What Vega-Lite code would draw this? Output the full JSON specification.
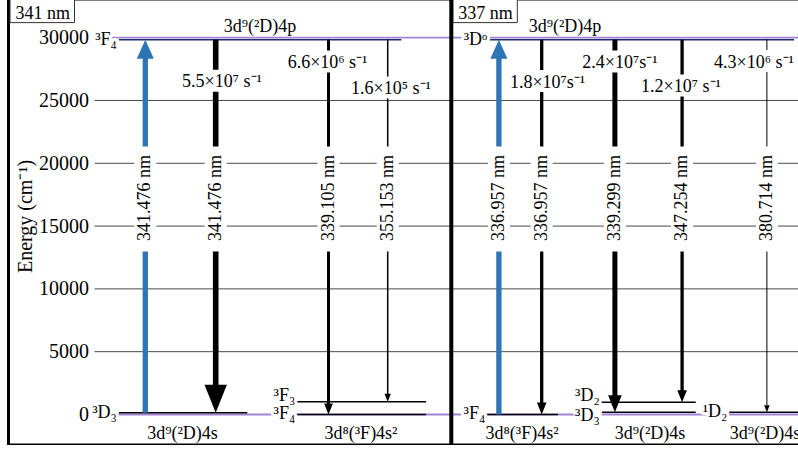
{
  "$schema": "https://vega.github.io/schema/vega-lite/v6.json",
  "width": 800,
  "height": 446,
  "autosize": {"type": "none"},
  "padding": {"left": 8.5, "top": -1, "right": 0, "bottom": 0},
  "config": {
    "font": "Liberation Serif",
    "view": {"stroke": "black", "strokeWidth": 3},
    "text": {"fontSize": 18, "color": "black"}
  },
  "datasets": {
    "ticks": [{"E": 0}, {"E": 5000}, {"E": 10000}, {"E": 15000}, {"E": 20000}, {"E": 25000}, {"E": 30000}],
    "levels": [
      {"panel": "341", "term": "³F₄", "kind": "upper", "E": 29840, "x1": 13.8, "x2": 49.1},
      {"panel": "341", "term": "³D₃", "kind": "lower", "E": 143, "x1": 13.8, "x2": 29.85},
      {"panel": "341", "term": "³F₄", "kind": "lower", "E": 0, "x1": 36.1, "x2": 52.2},
      {"panel": "341", "term": "³F₃", "kind": "lower", "E": 1020, "x1": 36.1, "x2": 52.2},
      {"panel": "337", "term": "³Dᵒ", "kind": "upper", "E": 29840, "x1": 60.1, "x2": 98.2},
      {"panel": "337", "term": "³F₄", "kind": "lower", "E": 0, "x1": 59.85, "x2": 68.7},
      {"panel": "337", "term": "³D₃", "kind": "lower", "E": 170, "x1": 74.15, "x2": 85.9},
      {"panel": "337", "term": "³D₂", "kind": "lower", "E": 970, "x1": 74.15, "x2": 85.9},
      {"panel": "337", "term": "¹D₂", "kind": "lower", "E": 170, "x1": 90.1, "x2": 100}
    ],
    "transitions": [
      {"panel": "341", "kind": "abs", "wl": "341.476 nm", "x": 17.1, "Eup": 29840, "Elow": 143},
      {"panel": "341", "kind": "em", "wl": "341.476 nm", "x": 25.9, "Eup": 29840, "Elow": 143, "rate": 55000000, "rlabel": "5.5×10⁷ s⁻¹", "lx": 26.69, "ly": 26450},
      {"panel": "341", "kind": "em", "wl": "339.105 nm", "x": 40.0, "Eup": 29840, "Elow": 0, "rate": 6600000, "rlabel": "6.6×10⁶ s⁻¹", "lx": 39.88, "ly": 27980},
      {"panel": "341", "kind": "em", "wl": "355.153 nm", "x": 47.4, "Eup": 29840, "Elow": 1020, "rate": 160000, "rlabel": "1.6×10⁵ s⁻¹", "lx": 47.81, "ly": 25910},
      {"panel": "337", "kind": "abs", "wl": "336.957 nm", "x": 61.3, "Eup": 29840, "Elow": 0},
      {"panel": "337", "kind": "em", "wl": "336.957 nm", "x": 66.65, "Eup": 29840, "Elow": 0, "rate": 18000000, "rlabel": "1.8×10⁷s⁻¹", "lx": 67.38, "ly": 26430},
      {"panel": "337", "kind": "em", "wl": "339.299 nm", "x": 75.8, "Eup": 29840, "Elow": 170, "rate": 24000000, "rlabel": "2.4×10⁷s⁻¹", "lx": 76.44, "ly": 27980},
      {"panel": "337", "kind": "em", "wl": "347.254 nm", "x": 84.2, "Eup": 29840, "Elow": 970, "rate": 12000000, "rlabel": "1.2×10⁷ s⁻¹", "lx": 84.06, "ly": 26080},
      {"panel": "337", "kind": "em", "wl": "380.714 nm", "x": 94.8, "Eup": 29840, "Elow": 170, "rate": 4300000, "rlabel": "4.3×10⁶ s⁻¹", "lx": 93.19, "ly": 28020}
    ],
    "configs": [
      {"config": "3d⁹(²D)4p", "x": 31.44, "E": 29840, "pos": "above"},
      {"config": "3d⁹(²D)4s", "x": 21.75, "E": 0, "pos": "below"},
      {"config": "3d⁸(³F)4s²", "x": 44.06, "E": 0, "pos": "below"},
      {"config": "3d⁹(²D)4p", "x": 69.56, "E": 29840, "pos": "above"},
      {"config": "3d⁸(³F)4s²", "x": 64.19, "E": 0, "pos": "below"},
      {"config": "3d⁹(²D)4s", "x": 80.19, "E": 0, "pos": "below"},
      {"config": "3d⁹(²D)4s", "x": 94.56, "E": 0, "pos": "below"}
    ],
    "panels": [{"name": "341 nm", "left": 0}, {"name": "337 nm", "left": 55.35}]
  },
  "layer": [
    {
      "data": {"name": "ticks"},
      "mark": {"type": "rule"},
      "encoding": {
        "x": {"datum": 10.75, "type": "quantitative", "scale": {"domain": [0, 100]}, "axis": null},
        "x2": {"datum": 100},
        "y": {"field": "E", "type": "quantitative", "scale": {"domain": [-2430, 33080], "nice": false, "zero": false},
          "axis": {"orient": "left", "offset": -86, "values": [0, 5000, 10000, 15000, 20000, 25000, 30000], "format": "d",
            "domain": false, "ticks": false, "grid": false, "zindex": 1, "labelFontSize": 20, "labelColor": "black", "labelPadding": 6,
            "labelFont": "Liberation Serif", "titleFont": "Liberation Serif",
            "title": "Energy (cm⁻¹)", "titleFontSize": 20, "titleFontWeight": "normal", "titleColor": "black",
            "titleAngle": 270, "titleX": -63, "titleY": 217, "titleBaseline": "alphabetic", "titleAlign": "center"}},
        "color": {"condition": {"test": "datum.E == 0 || datum.E == 30000", "value": "#a283d6"}, "value": "#4a4a4a"},
        "strokeWidth": {"condition": {"test": "datum.E == 0 || datum.E == 30000", "value": 1.8}, "value": 1}
      }
    },
    {
      "data": {"name": "levels"},
      "mark": {"type": "rule", "strokeWidth": 1.5},
      "encoding": {
        "x": {"field": "x1", "type": "quantitative", "scale": {"domain": [0, 100]}, "axis": null},
        "x2": {"field": "x2"},
        "y": {"field": "E", "type": "quantitative", "scale": {"domain": [-2430, 33080], "nice": false, "zero": false}},
        "color": {"condition": {"test": "datum.kind == 'upper'", "value": "#1c2e6b"}, "value": "black"}
      }
    },
    {
      "data": {"name": "transitions"},
      "transform": [{"filter": "datum.kind == 'em'"}],
      "mark": {"type": "rule", "color": "black", "y2Offset": -7},
      "encoding": {
        "x": {"field": "x", "type": "quantitative", "scale": {"domain": [0, 100]}, "axis": null},
        "y": {"field": "Eup", "type": "quantitative", "scale": {"domain": [-2430, 33080], "nice": false, "zero": false}},
        "y2": {"field": "Elow"},
        "strokeWidth": {"field": "rate", "type": "quantitative", "legend": null,
          "scale": {"type": "threshold", "domain": [1000000, 5000000, 10000000, 20000000, 40000000], "range": [1.5, 1, 3, 3.3, 5, 5.6]}}
      }
    },
    {
      "data": {"name": "transitions"},
      "transform": [{"filter": "datum.kind == 'em'"}],
      "mark": {"type": "point", "shape": "M-0.8,-2L0.8,-2L0,0Z", "filled": true, "color": "black", "opacity": 1, "strokeWidth": 0},
      "encoding": {
        "x": {"field": "x", "type": "quantitative", "scale": {"domain": [0, 100]}, "axis": null},
        "y": {"field": "Elow", "type": "quantitative", "scale": {"domain": [-2430, 33080], "nice": false, "zero": false}},
        "size": {"field": "rate", "type": "quantitative", "legend": null,
          "scale": {"type": "threshold", "domain": [1000000, 5000000, 10000000, 20000000, 40000000], "range": [64, 49, 121, 144, 289, 784]}}
      }
    },
    {
      "data": {"name": "transitions"},
      "transform": [{"filter": "datum.kind == 'abs'"}],
      "mark": {"type": "rule", "color": "#2e75b6", "strokeWidth": 5.3, "yOffset": 7},
      "encoding": {
        "x": {"field": "x", "type": "quantitative", "scale": {"domain": [0, 100]}, "axis": null},
        "y": {"field": "Eup", "type": "quantitative", "scale": {"domain": [-2430, 33080], "nice": false, "zero": false}},
        "y2": {"field": "Elow"}
      }
    },
    {
      "data": {"name": "transitions"},
      "transform": [{"filter": "datum.kind == 'abs'"}],
      "mark": {"type": "point", "shape": "M-0.9,2L0.9,2L0,0Z", "size": 361, "filled": true, "color": "#2e75b6", "opacity": 1, "strokeWidth": 0},
      "encoding": {
        "x": {"field": "x", "type": "quantitative", "scale": {"domain": [0, 100]}, "axis": null},
        "y": {"field": "Eup", "type": "quantitative", "scale": {"domain": [-2430, 33080], "nice": false, "zero": false}}
      }
    },
    {
      "data": {"name": "transitions"},
      "mark": {"type": "rect", "color": "white", "xOffset": -11, "x2Offset": 11},
      "encoding": {
        "x": {"field": "x", "type": "quantitative", "scale": {"domain": [0, 100]}, "axis": null},
        "x2": {"field": "x"},
        "y": {"datum": 12980, "type": "quantitative", "scale": {"domain": [-2430, 33080], "nice": false, "zero": false}},
        "y2": {"datum": 21340}
      }
    },
    {
      "data": {"name": "transitions"},
      "mark": {"type": "text", "angle": 270, "align": "center", "baseline": "middle", "fontSize": 18},
      "encoding": {
        "x": {"field": "x", "type": "quantitative", "scale": {"domain": [0, 100]}, "axis": null},
        "y": {"datum": 17240, "type": "quantitative", "scale": {"domain": [-2430, 33080], "nice": false, "zero": false}},
        "text": {"field": "wl"}
      }
    },
    {
      "data": {"name": "transitions"},
      "transform": [{"filter": "datum.kind == 'em'"}],
      "mark": {"type": "rect", "color": "white", "xOffset": -30, "x2Offset": 30, "yOffset": -12.5, "y2Offset": 9.5},
      "encoding": {
        "x": {"field": "lx", "type": "quantitative", "scale": {"domain": [0, 100]}, "axis": null},
        "x2": {"field": "lx"},
        "y": {"field": "ly", "type": "quantitative", "scale": {"domain": [-2430, 33080], "nice": false, "zero": false}},
        "y2": {"field": "ly"}
      }
    },
    {
      "data": {"name": "transitions"},
      "transform": [{"filter": "datum.kind == 'em'"}],
      "mark": {"type": "text", "align": "center", "baseline": "middle", "fontSize": 18},
      "encoding": {
        "x": {"field": "lx", "type": "quantitative", "scale": {"domain": [0, 100]}, "axis": null},
        "y": {"field": "ly", "type": "quantitative", "scale": {"domain": [-2430, 33080], "nice": false, "zero": false}},
        "text": {"field": "rlabel"}
      }
    },
    {
      "data": {"name": "levels"},
      "mark": {"type": "text", "align": "right", "baseline": "middle", "dx": -2, "fontSize": 18, "color": "white", "stroke": "white", "strokeWidth": 6, "strokeJoin": "round"},
      "encoding": {
        "x": {"field": "x1", "type": "quantitative", "scale": {"domain": [0, 100]}, "axis": null},
        "y": {"field": "E", "type": "quantitative", "scale": {"domain": [-2430, 33080], "nice": false, "zero": false}},
        "text": {"field": "term"}
      }
    },
    {
      "data": {"name": "levels"},
      "transform": [{"filter": "!(datum.kind == 'lower' && datum.E > 500) && !(datum.kind == 'lower' && datum.E > 100 && datum.x1 > 70 && datum.x1 < 80)"}],
      "mark": {"type": "text", "align": "right", "baseline": "middle", "dx": -2, "fontSize": 18},
      "encoding": {
        "x": {"field": "x1", "type": "quantitative", "scale": {"domain": [0, 100]}, "axis": null},
        "y": {"field": "E", "type": "quantitative", "scale": {"domain": [-2430, 33080], "nice": false, "zero": false}},
        "text": {"field": "term"}
      }
    },
    {
      "data": {"name": "levels"},
      "transform": [{"filter": "datum.kind == 'lower' && datum.E > 500"}],
      "mark": {"type": "text", "align": "right", "baseline": "middle", "dx": -2, "dy": -6, "fontSize": 18},
      "encoding": {
        "x": {"field": "x1", "type": "quantitative", "scale": {"domain": [0, 100]}, "axis": null},
        "y": {"field": "E", "type": "quantitative", "scale": {"domain": [-2430, 33080], "nice": false, "zero": false}},
        "text": {"field": "term"}
      }
    },
    {
      "data": {"name": "levels"},
      "transform": [{"filter": "datum.kind == 'lower' && datum.E > 100 && datum.E < 500 && datum.x1 > 70 && datum.x1 < 80"}],
      "mark": {"type": "text", "align": "right", "baseline": "middle", "dx": -2, "dy": 4, "fontSize": 18},
      "encoding": {
        "x": {"field": "x1", "type": "quantitative", "scale": {"domain": [0, 100]}, "axis": null},
        "y": {"field": "E", "type": "quantitative", "scale": {"domain": [-2430, 33080], "nice": false, "zero": false}},
        "text": {"field": "term"}
      }
    },
    {
      "data": {"name": "configs"},
      "transform": [{"filter": "datum.pos == 'above'"}],
      "mark": {"type": "text", "align": "center", "baseline": "alphabetic", "dy": -8, "fontSize": 18},
      "encoding": {
        "x": {"field": "x", "type": "quantitative", "scale": {"domain": [0, 100]}, "axis": null},
        "y": {"field": "E", "type": "quantitative", "scale": {"domain": [-2430, 33080], "nice": false, "zero": false}},
        "text": {"field": "config"}
      }
    },
    {
      "data": {"name": "configs"},
      "transform": [{"filter": "datum.pos == 'below'"}],
      "mark": {"type": "text", "align": "center", "baseline": "alphabetic", "dy": 25, "fontSize": 18},
      "encoding": {
        "x": {"field": "x", "type": "quantitative", "scale": {"domain": [0, 100]}, "axis": null},
        "y": {"field": "E", "type": "quantitative", "scale": {"domain": [-2430, 33080], "nice": false, "zero": false}},
        "text": {"field": "config"}
      }
    },
    {
      "data": {"name": "panels"},
      "mark": {"type": "rect", "fill": "white", "stroke": "#333333", "strokeWidth": 1, "xOffset": 1.5, "x2Offset": 66},
      "encoding": {
        "x": {"field": "left", "type": "quantitative", "scale": {"domain": [0, 100]}, "axis": null},
        "x2": {"field": "left"},
        "y": {"datum": 33080, "type": "quantitative", "scale": {"domain": [-2430, 33080], "nice": false, "zero": false}},
        "y2": {"datum": 31200}
      }
    },
    {
      "data": {"name": "panels"},
      "mark": {"type": "text", "align": "left", "baseline": "alphabetic", "dx": 7, "dy": 19.5, "fontSize": 18},
      "encoding": {
        "x": {"field": "left", "type": "quantitative", "scale": {"domain": [0, 100]}, "axis": null},
        "y": {"datum": 33080, "type": "quantitative", "scale": {"domain": [-2430, 33080], "nice": false, "zero": false}},
        "text": {"field": "name"}
      }
    },
    {
      "data": {"name": "panels"},
      "transform": [{"filter": "datum.left > 0"}],
      "mark": {"type": "rule", "color": "black", "strokeWidth": 4},
      "encoding": {
        "x": {"field": "left", "type": "quantitative", "scale": {"domain": [0, 100]}, "axis": null},
        "y": {"datum": -2430, "type": "quantitative", "scale": {"domain": [-2430, 33080], "nice": false, "zero": false}},
        "y2": {"datum": 33080}
      }
    }
  ]
}
